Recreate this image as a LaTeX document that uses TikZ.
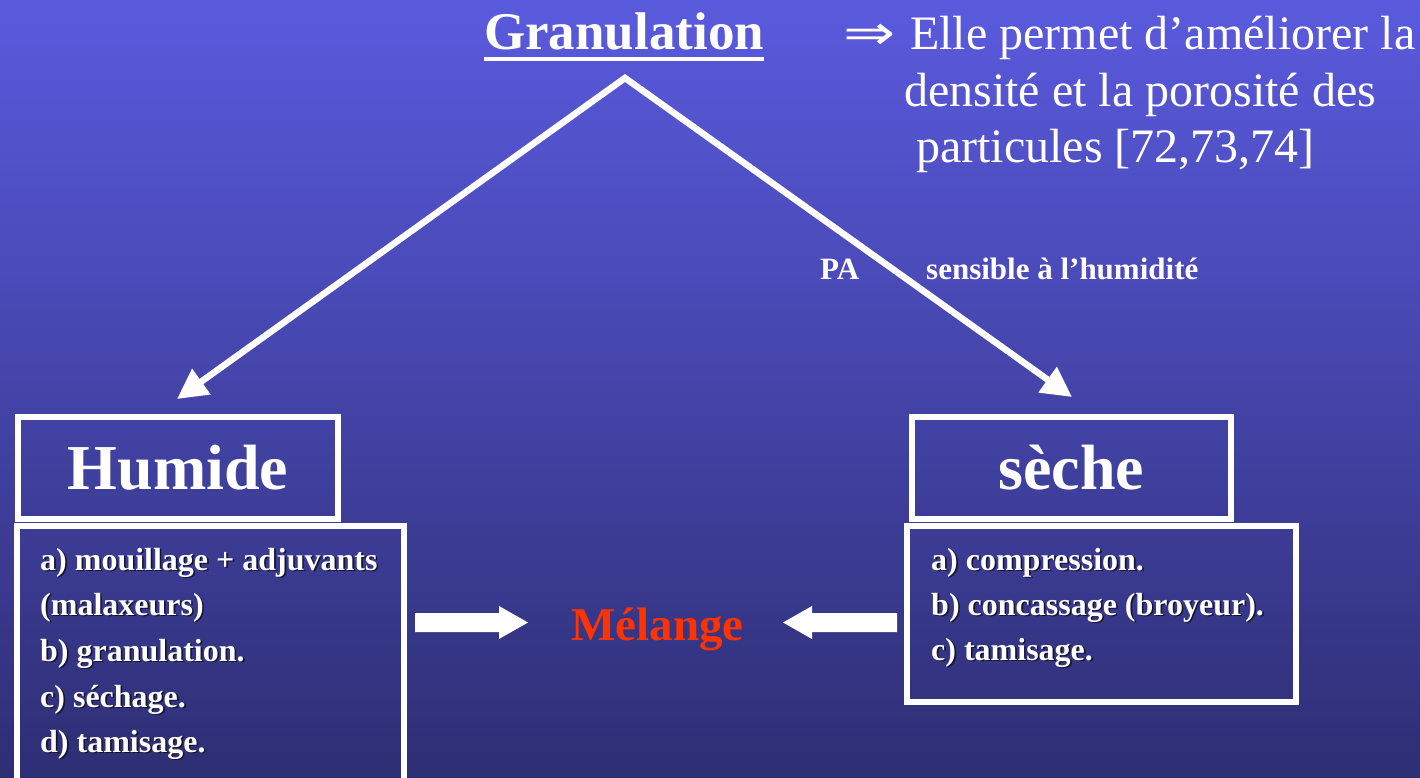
\documentclass[tikz,border=0pt]{standalone}
\usepackage{fontspec}
\setmainfont{Liberation Serif}
\newfontfamily\symf{DejaVu Sans}
\usetikzlibrary{arrows.meta}
\definecolor{bgtop}{RGB}{90,90,222}
\definecolor{bgbot}{RGB}{46,46,116}
\definecolor{melred}{RGB}{255,51,0}
\definecolor{shc}{RGB}{20,20,50}
\newcommand\shtxt[1]{\leavevmode\rlap{\kern1.6pt\raisebox{-1.6pt}{\textcolor{shc}{#1}}}#1}
\begin{document}
\begin{tikzpicture}[x=1pt,y=-1pt,
  txt/.style={inner sep=0pt, anchor=base west, text=white},
  frame/.style={draw=white, line width=5.5pt, inner sep=0pt},
  diag/.style={draw=white, line width=6.5pt, line join=miter,
    {Triangle[length=30pt,width=30pt]}-{Triangle[length=30pt,width=30pt]}},
  blockarrow/.style={fill=white},
  big/.style={font=\bfseries\fontsize{64}{70}\selectfont, text=white},
  item/.style={txt, font=\bfseries\fontsize{32}{38}\selectfont},
  rtext/.style={txt, font=\fontsize{48}{56}\selectfont}]

\useasboundingbox (0,0) rectangle (1420,778);
\shade[top color=bgtop, bottom color=bgbot] (0,0) rectangle (1420,778);

% title
\node[txt, font=\bfseries\fontsize{53}{60}\selectfont] (gran) at (484,50) {Granulation};
\draw[white, line width=4pt] ([yshift=-9pt]gran.base west) -- ([yshift=-9pt]gran.base east);

% right text
\node[rtext] (impl) at (843,50) {\symf\scalebox{1.3}[1]{⇒}};
\node[rtext] (l1) at (910,50) {Elle permet d’améliorer la};
\node[rtext] (l2) at (904,107) {densité et la porosité des};
\node[rtext] (l3) at (916,163) {particules [72,73,74]};

% PA label
\node[txt, font=\bfseries\fontsize{31}{36}\selectfont] (pa) at (820,279) {PA};
\node[txt, font=\bfseries\fontsize{31}{36}\selectfont] (sens) at (926,279) {sensible à l’humidité};

% boxes
\node[frame, minimum width=320pt, minimum height=102pt, big] (hum) at (178,468) {Humide};
\node[frame, minimum width=319pt, minimum height=102pt, big] (sec) at (1071.5,468) {sèche};
\node[frame, minimum width=387pt, minimum height=264pt] (humlist) at (210.5,658) {};
\node[frame, minimum width=389pt, minimum height=176pt] (seclist) at (1101.5,614) {};

% list items
\node[item] (h1) at (40,570) {\shtxt{a) mouillage + adjuvants}};
\node[item] (h2) at (40,615) {\shtxt{(malaxeurs)}};
\node[item] (h3) at (40,661) {\shtxt{b) granulation.}};
\node[item] (h4) at (40,707) {\shtxt{c) séchage.}};
\node[item] (h5) at (40,752) {\shtxt{d) tamisage.}};
\node[item] (s1) at (931,570) {\shtxt{a) compression.}};
\node[item] (s2) at (931,615) {\shtxt{b) concassage (broyeur).}};
\node[item] (s3) at (931,660) {\shtxt{c) tamisage.}};

% Melange
\node[txt, text=melred, font=\bfseries\fontsize{47}{54}\selectfont] (mel) at (571,640) {Mélange};

% diagonal arrows
\coordinate (apex) at (625,78);
\coordinate (humtip) at (177,399);
\coordinate (sectip) at (1072,397);
\draw[diag] (humtip) -- (apex) -- (sectip);

% block arrows
\fill[blockarrow] (415,613) -- (499,613) -- (499,606) -- (528,622.5) -- (499,639) -- (499,632) -- (415,632) -- cycle;
\fill[blockarrow] (897,613) -- (812,613) -- (812,606) -- (783,622.5) -- (812,639) -- (812,632) -- (897,632) -- cycle;
\end{tikzpicture}
\end{document}
